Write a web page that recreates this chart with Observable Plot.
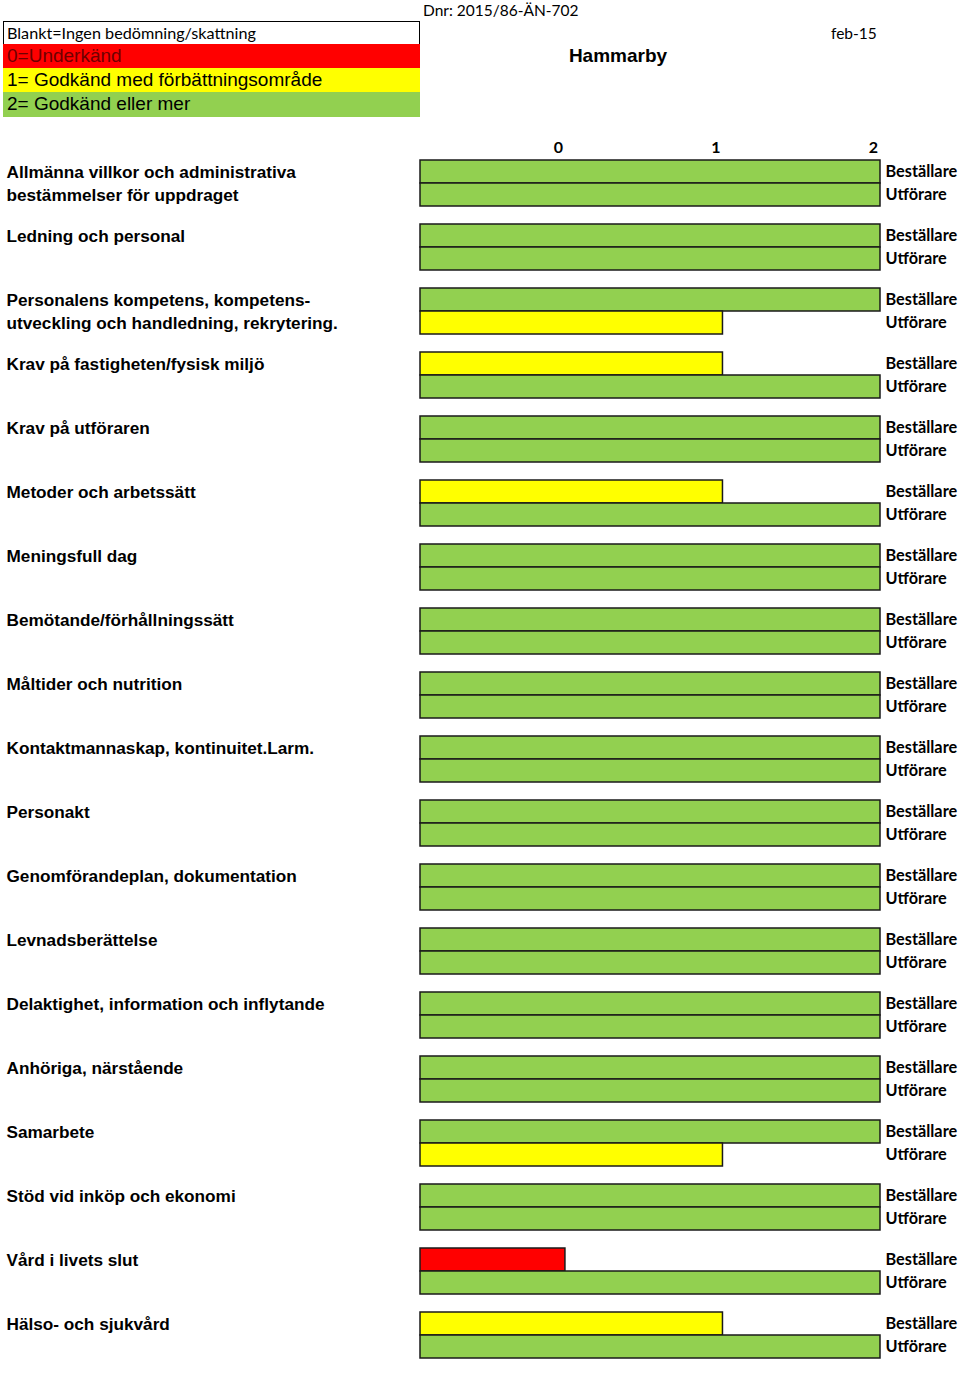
<!DOCTYPE html>
<html>
<head>
<meta charset="utf-8">
<script src="https://cdn.jsdelivr.net/npm/d3@7"></script>
<script src="https://cdn.jsdelivr.net/npm/@observablehq/plot@0.6"></script>
<style>
  html, body { margin: 0; padding: 0; background: #fff; }
  #page { position: relative; width: 960px; height: 1379px; overflow: hidden; }
  .cal { font-family: Lato, "Open Sans", sans-serif; font-size: 15.5px; color: #000; position: absolute; white-space: nowrap; }
  .lg { position: absolute; left: 3px; width: 417px; box-sizing: border-box; font-family: "Liberation Sans", Arial, sans-serif; font-size: 19px; padding-left: 4px; white-space: nowrap; }
  #chart { position: absolute; left: 0; top: 130px; }
</style>
</head>
<body>
<div id="page">
  <div class="cal" style="left:423px; top:0px; line-height:20px;" id="dnr"></div>
  <div class="lg" style="top:21px; height:24px; line-height:22px; border:1.5px solid #000; background:#fff; font-family:Lato, 'Open Sans', sans-serif; font-size:16.2px; padding-left:3px;" id="lg-blank"></div>
  <div class="lg" style="top:44px; height:24px; line-height:24px; background:#FF0000; color:#6e0000;" id="lg-0"></div>
  <div class="lg" style="top:68px; height:24px; line-height:24px; background:#FFFF00;" id="lg-1"></div>
  <div class="lg" style="top:92px; height:25px; line-height:24px; background:#92D050;" id="lg-2"></div>
  <div style="position:absolute; left:518px; width:200px; top:44px; line-height:24px; text-align:center; font-family:'Liberation Sans', Arial, sans-serif; font-weight:bold; font-size:19px;" id="title"></div>
  <div class="cal" style="left:831px; top:22px; line-height:22px;" id="date"></div>
  <div id="chart"></div>
</div>
<script>
// ---- data ----
const docNumber = "Dnr: 2015/86-ÄN-702";
const legendLabels = [
  "Blankt=Ingen bedömning/skattning",
  "0=Underkänd",
  "1= Godkänd med förbättningsområde",
  "2= Godkänd eller mer"
];
const title = "Hammarby";
const dateLabel = "feb-15";

const categories = [
  "Allmänna villkor och administrativa\nbestämmelser för uppdraget",
  "Ledning och personal",
  "Personalens kompetens, kompetens-\nutveckling och handledning, rekrytering.",
  "Krav på fastigheten/fysisk miljö",
  "Krav på utföraren",
  "Metoder och arbetssätt",
  "Meningsfull dag",
  "Bemötande/förhållningssätt",
  "Måltider och nutrition",
  "Kontaktmannaskap, kontinuitet.Larm.",
  "Personakt",
  "Genomförandeplan, dokumentation",
  "Levnadsberättelse",
  "Delaktighet, information och inflytande",
  "Anhöriga, närstående",
  "Samarbete",
  "Stöd vid inköp och ekonomi",
  "Vård i livets slut",
  "Hälso- och sjukvård"
];
const roles = ["Beställare", "Utförare"];
const bestallare = [2, 2, 2, 1, 2, 1, 2, 2, 2, 2, 2, 2, 2, 2, 2, 2, 2, 0, 1];
const utforare   = [2, 2, 1, 2, 2, 2, 2, 2, 2, 2, 2, 2, 2, 2, 2, 1, 2, 2, 2];
const ticks = [0, 1, 2];
const scoreColors = ["#FF0000", "#FFFF00", "#92D050"];
const axisMin = -0.92;

// ---- header text ----
document.getElementById("dnr").textContent = docNumber;
document.getElementById("lg-blank").textContent = legendLabels[0];
document.getElementById("lg-0").textContent = legendLabels[1];
document.getElementById("lg-1").textContent = legendLabels[2];
document.getElementById("lg-2").textContent = legendLabels[3];
document.getElementById("title").textContent = title;
document.getElementById("date").textContent = dateLabel;

// ---- table for the library ----
const rows = [];
categories.forEach((c, i) => {
  rows.push({category: c, role: roles[0], value: bestallare[i]});
  rows.push({category: c, role: roles[1], value: utforare[i]});
});

const chart = Plot.plot({
  width: 960,
  height: 1249,
  marginLeft: 420,
  marginRight: 80,
  marginTop: 25,
  marginBottom: 17,
  style: {background: "transparent", overflow: "visible"},
  x: {domain: [axisMin, 2]},
  y: {domain: roles, padding: 0},
  fy: {domain: categories, paddingInner: 0.27, paddingOuter: 0, axis: null},
  color: {type: "ordinal", domain: ticks, range: scoreColors},
  marks: [
    Plot.barX(rows, {
      fy: "category", y: "role",
      x1: () => axisMin, x2: "value",
      fill: "value", stroke: "#1a1a1a", strokeWidth: 1.5
    }),
    Plot.axisX({
      anchor: "top", ticks: ticks, tickFormat: d => String(d),
      tickSize: 0, tickPadding: 7, dx: -7,
      label: null, fontSize: 16, fontWeight: "bold",
      fontFamily: "Lato, 'Open Sans', sans-serif", fill: "#000"
    }),
    Plot.axisY({
      anchor: "right", tickSize: 0, tickPadding: 5, label: null,
      fontSize: 16.3, fontWeight: "bold",
      fontFamily: "Lato, 'Open Sans', sans-serif", fill: "#000"
    }),
    Plot.text(categories, {
      fy: d => d, text: d => d,
      frameAnchor: "top-left", textAnchor: "start", lineAnchor: "top",
      dx: -414, dy: 1.5, lineHeight: 1.36,
      fontSize: 17.2, fontWeight: "bold",
      fontFamily: "'Liberation Sans', Arial, sans-serif", fill: "#000"
    })
  ]
});
document.getElementById("chart").appendChild(chart);
</script>
</body>
</html>
